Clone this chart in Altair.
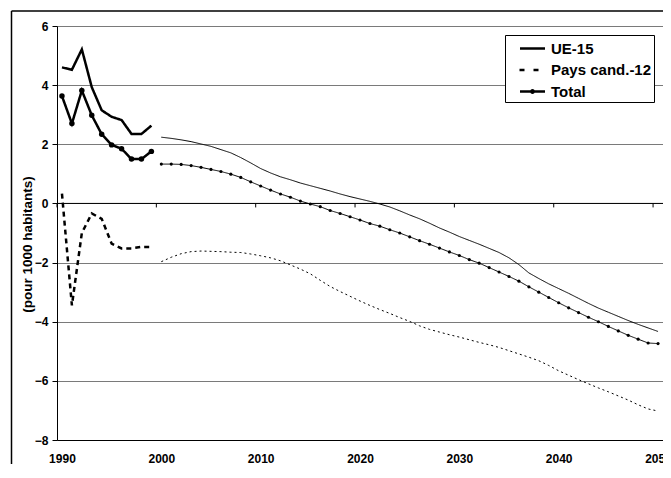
import altair as alt
import pandas as pd

series_names = ["UE-15", "Pays cand.-12", "Total"]

hist_years = list(range(1990, 2000))
proj_years = list(range(2000, 2051))

ue15_hist = [4.60, 4.52, 5.21, 3.93, 3.15, 2.93, 2.82, 2.35, 2.35, 2.63]
cand_hist = [0.33, -3.45, -1.00, -0.34, -0.52, -1.36, -1.52, -1.52, -1.47, -1.47]
total_hist = [3.63, 2.70, 3.82, 2.98, 2.34, 1.98, 1.85, 1.50, 1.50, 1.76]

ue15_proj = [2.24, 2.20, 2.15, 2.09, 2.01, 1.93, 1.82, 1.71, 1.55, 1.37,
             1.18, 1.03, 0.90, 0.80, 0.69, 0.60, 0.51, 0.42, 0.32, 0.23,
             0.15, 0.07, -0.02, -0.12, -0.25, -0.39, -0.52, -0.67, -0.83, -0.97,
             -1.12, -1.25, -1.38, -1.52, -1.66, -1.84, -2.07, -2.35, -2.54, -2.72,
             -2.88, -3.04, -3.21, -3.38, -3.54, -3.68, -3.82, -3.96, -4.09, -4.21, -4.33]
cand_proj = [-1.97, -1.82, -1.70, -1.63, -1.61, -1.62, -1.63, -1.65, -1.66, -1.71,
             -1.77, -1.84, -1.94, -2.08, -2.22, -2.38, -2.60, -2.81, -2.98, -3.14,
             -3.30, -3.45, -3.59, -3.72, -3.86, -3.99, -4.14, -4.26, -4.35, -4.44,
             -4.52, -4.61, -4.70, -4.78, -4.87, -4.98, -5.09, -5.20, -5.32, -5.48,
             -5.66, -5.81, -5.96, -6.10, -6.24, -6.37, -6.51, -6.65, -6.81, -6.95, -7.02]
total_proj = [1.33, 1.33, 1.32, 1.28, 1.22, 1.15, 1.08, 0.99, 0.88, 0.73,
              0.59, 0.45, 0.32, 0.21, 0.08, -0.02, -0.11, -0.24, -0.34, -0.45,
              -0.56, -0.68, -0.77, -0.89, -1.00, -1.13, -1.26, -1.38, -1.51, -1.64,
              -1.76, -1.90, -2.02, -2.17, -2.32, -2.47, -2.63, -2.82, -3.00, -3.18,
              -3.36, -3.53, -3.69, -3.85, -4.00, -4.16, -4.31, -4.46, -4.59, -4.72, -4.74]

x_label_years = [1990, 2000, 2010, 2020, 2030, 2040, 2050]
x_tick_bounds = [1989.5, 1999.5, 2009.5, 2019.5, 2029.5, 2039.5, 2049.5]
y_ticks = [-8, -6, -4, -2, 0, 2, 4, 6]

rows = []
for name, h, p in zip(series_names, [ue15_hist, cand_hist, total_hist],
                      [ue15_proj, cand_proj, total_proj]):
    for yr, v in zip(hist_years, h):
        rows.append({"year": yr, "value": v, "series": name, "period": "hist",
                     "key": name + " hist"})
    for yr, v in zip(proj_years, p):
        rows.append({"year": yr, "value": v, "series": name, "period": "proj",
                     "key": name + " proj"})
df = pd.DataFrame(rows)

FONT = "Liberation Sans"

xscale = alt.Scale(domain=[1989.5, 2050.5], nice=False, zero=False)
yscale = alt.Scale(domain=[-8, 6], nice=False, zero=False)
xaxis = alt.Axis(values=x_label_years, format="d", title=None, ticks=False,
                 tickSize=0, grid=False, domain=True, domainColor="black",
                 labelFlush=False, labelPadding=13, labelFont=FONT,
                 labelFontSize=12, labelFontWeight="bold", labelColor="black")
yaxis = alt.Axis(values=y_ticks, title="(pour 1000 habitants)", grid=True,
                 gridColor="#7a7a7a", gridWidth=1, domainColor="black",
                 tickColor="black", tickSize=5, labelPadding=4, labelFont=FONT,
                 labelFontSize=12, labelFontWeight="bold", labelColor="black",
                 titleFont=FONT, titleFontSize=13.5, titleFontWeight="bold",
                 titleColor="black", titleX=-29.5, titleY=218, titleAngle=270,
                 titleAlign="center", titleBaseline="middle")

X = alt.X("year:Q", scale=xscale, axis=xaxis)
Y = alt.Y("value:Q", scale=yscale, axis=yaxis)

dash_domain = [s + " hist" for s in series_names] + [s + " proj" for s in series_names]
dash_range = [[1, 0], [5, 4], [1, 0], [1, 0], [2, 3], [1, 0]]
dash_enc = alt.StrokeDash("key:N", scale=alt.Scale(domain=dash_domain, range=dash_range),
                          legend=None)

base = alt.Chart(df)

hist_lines = base.transform_filter(alt.datum.period == "hist").mark_line(
    color="black", strokeWidth=2.5).encode(x=X, y=Y, strokeDash=dash_enc)
proj_lines = base.transform_filter(alt.datum.period == "proj").mark_line(
    color="black", strokeWidth=1).encode(x=X, y=Y, strokeDash=dash_enc)

hist_pts = base.transform_filter(
    (alt.datum.series == "Total") & (alt.datum.period == "hist")
).mark_point(filled=True, color="black", size=30, opacity=1).encode(x=X, y=Y)
proj_pts = base.transform_filter(
    (alt.datum.series == "Total") & (alt.datum.period == "proj")
).mark_point(filled=True, color="black", size=10, opacity=1).encode(x=X, y=Y)

# zero line with category ticks
zero_line = alt.Chart(pd.DataFrame({"z": [0]})).mark_rule(
    color="black", strokeWidth=1).encode(y=alt.Y("z:Q", scale=yscale, axis=yaxis))
tick_df = pd.DataFrame({"b": x_tick_bounds, "z": [0] * len(x_tick_bounds)})
zero_ticks = alt.Chart(tick_df).mark_rule(color="black", strokeWidth=1, y2Offset=4).encode(
    x=alt.X("b:Q", scale=xscale, axis=xaxis),
    y=alt.Y("z:Q", scale=yscale, axis=yaxis),
    y2="z:Q",
)

# legend layer (no visible points)
legend_paths = [
    "M-1.25,0H1.25",
    "M-1.3,0H-0.8M0.1,0H0.6",
    "M-1.25,0H1.25M0.12,0A0.12,0.12,0,1,1,-0.12,0A0.12,0.12,0,1,1,0.12,0",
]
legend_df = pd.DataFrame({"series": series_names, "year": [None] * 3, "value": [None] * 3})
legend_layer = alt.Chart(legend_df).mark_point(
    filled=False, color="black", strokeWidth=2.5, opacity=1).encode(
    x=X, y=Y,
    shape=alt.Shape("series:N",
                    scale=alt.Scale(domain=series_names, range=legend_paths),
                    legend=alt.Legend(title=None, orient="none", legendX=448, legendY=9,
                                      padding=2, symbolSize=400, symbolOffset=14,
                                      labelOffset=7, rowPadding=1.5,
                                      symbolStrokeWidth=2.5, symbolStrokeColor="black",
                                      symbolFillColor="black",
                                      strokeColor="black", fillColor="white",
                                      labelFont=FONT, labelFontSize=15,
                                      labelFontWeight="bold", labelColor="black")),
)

# outer chart-area frame
frame_df = pd.DataFrame({"f": [0]})
frame_left = alt.Chart(frame_df).mark_rule(color="black", strokeWidth=1.5).encode(
    x=alt.value(-45.5), y=alt.value(-15), y2=alt.value(460))
frame_top = alt.Chart(frame_df).mark_rule(color="black", strokeWidth=1.5).encode(
    x=alt.value(-45.5), x2=alt.value(640), y=alt.value(-15))

chart = alt.layer(
    zero_line, zero_ticks, proj_lines, hist_lines, proj_pts, hist_pts, legend_layer,
    frame_left, frame_top,
).properties(
    width=606, height=414,
    autosize=alt.AutoSizeParams(type="none"),
    padding={"left": 49, "top": 18, "right": 0, "bottom": 24},
).configure_view(
    stroke="#808080", strokeWidth=1
).configure_legend(
    strokeWidth=1
).configure(background="white")

chart.save("out.html", embed_options={"renderer": "svg", "actions": False})
